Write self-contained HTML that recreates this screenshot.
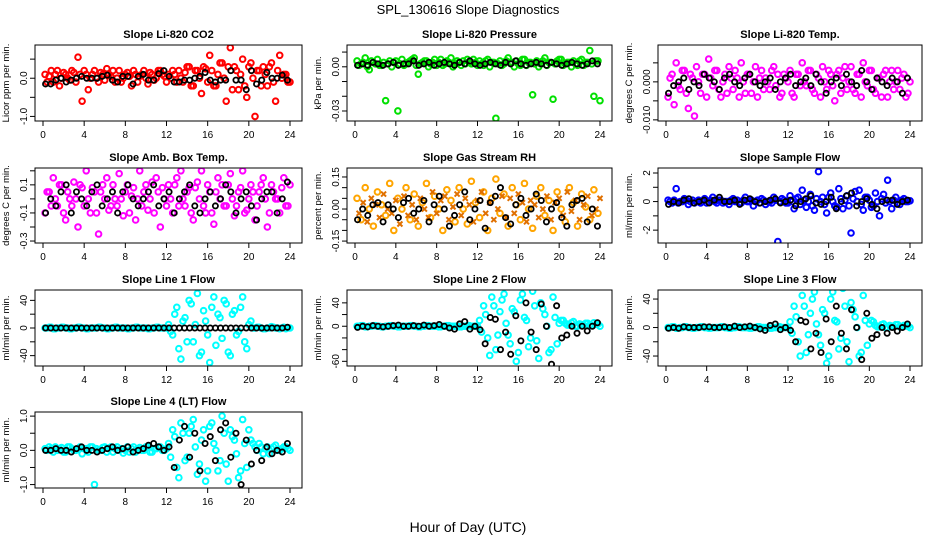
<!DOCTYPE html>
<html><head><meta charset="utf-8"><style>
body{margin:0;background:#fff;}
svg{display:block;font-family:"Liberation Sans",Arial,sans-serif;}
</style></head><body>
<svg id="chart" width="936" height="540" viewBox="0 0 936 540" xmlns="http://www.w3.org/2000/svg">
<text x="468" y="14" text-anchor="middle" font-size="13">SPL_130616  Slope Diagnostics</text>
<text x="468" y="532" text-anchor="middle" font-size="14">Hour of Day (UTC)</text>
</svg>
<script>
const hoursColor=[0.2,0.6,1.0,1.4,1.8,2.2,2.6,3.0,3.4,3.8,4.2,4.6,5.0,5.4,5.8,6.2,6.6,7.0,7.4,7.8,8.2,8.6,9.0,9.4,9.8,10.2,10.6,11.0,11.4,11.8,12.2,12.6,13.0,13.4,13.8,14.2,14.6,15.0,15.4,15.8,16.2,16.6,17.0,17.4,17.8,18.2,18.6,19.0,19.4,19.8,20.2,20.6,21.0,21.4,21.8,22.2,22.6,23.0,23.4,23.8];
const hoursBlack=[0.25,0.75,1.25,1.75,2.25,2.75,3.25,3.75,4.25,4.75,5.25,5.75,6.25,6.75,7.25,7.75,8.25,8.75,9.25,9.75,10.25,10.75,11.25,11.75,12.25,12.75,13.25,13.75,14.25,14.75,15.25,15.75,16.25,16.75,17.25,17.75,18.25,18.75,19.25,19.75,20.25,20.75,21.25,21.75,22.25,22.75,23.25,23.75];
const xTicks=[0,4,8,12,16,20,24];
const Z30=[0,1,-1,0,1,0,-1,0,1,0,-1,0,0,1,0,-1,0,1,0,0,-1,0,1,0,0,-1,0,1,0,0];

const co2A=[0.1,0.05,-0.1,0.2,0.0,0.1,-0.05,0.15,0.55,-0.6,0.1,0.0,0.2,-0.1,0.1,0.25,0.05,-0.1,0.2,0.0,0.15,-0.2,0.1,0.05,0.2,-0.15,0.1,0.0,0.2,0.05,0.1,0.2,-0.1,0.0,0.15,0.3,-0.2,0.2,-0.4,0.25,0.6,-0.2,0.1,0.4,-0.6,0.8,0.3,-0.3,0.5,-0.5,0.4,-1.0,0.2,0.3,-0.2,0.4,-0.6,0.6,0.1,-0.1];
const co2B=[-0.1,0.2,0.1,-0.2,0.15,0.0,0.2,-0.1,0.1,0.2,-0.3,0.1,0.0,0.15,-0.05,0.1,0.2,0.0,-0.1,0.1,0.05,0.2,-0.1,0.1,0.0,0.15,-0.05,0.2,0.1,-0.1,0.0,0.1,0.2,-0.1,0.3,-0.2,0.2,0.0,0.3,-0.1,0.2,-0.2,0.4,0.0,0.3,-0.3,0.2,0.1,-0.2,0.3,0.0,0.2,-0.2,0.1,0.3,-0.1,0.2,0.0,0.1,-0.1];
const co2K=[-0.15,-0.15,-0.05,0.0,-0.1,-0.05,0.0,0.05,0.0,0.0,0.0,0.05,0.08,-0.05,-0.1,0.05,0.05,-0.15,0.05,0.1,-0.05,-0.05,0.12,0.2,0.05,-0.1,-0.1,-0.05,-0.05,0.0,0.05,0.15,-0.05,-0.1,-0.05,-0.05,0.2,-0.05,-0.05,-0.3,0.2,-0.15,-0.05,0.15,0.0,0.0,0.08,-0.05];

const presA=[0.004,0.002,0.006,-0.002,0.003,0.005,0.001,-0.023,0.004,0.003,-0.03,0.005,0.002,0.004,0.006,-0.005,0.003,0.004,0.002,0.005,0.003,0.001,0.004,0.006,0.002,0.003,0.004,0.005,0.002,0.003,0.004,0.001,0.005,0.003,-0.035,0.004,0.002,0.006,0.003,0.004,0.001,0.005,0.003,-0.019,0.004,0.002,0.006,0.003,-0.022,0.004,0.005,0.002,0.003,0.004,0.001,0.005,0.003,0.011,-0.02,0.004];
const presB=[0.001,0.003,0.0,0.004,0.002,0.001,0.003,0.002,0.0,0.004,0.002,0.001,0.003,0.005,0.001,0.002,0.004,0.0,0.003,0.001,0.005,0.002,0.003,0.0,0.004,0.001,0.002,0.003,0.005,0.001,0.002,0.004,0.0,0.003,0.002,0.001,0.004,0.003,0.0,0.002,0.005,0.001,0.003,0.002,0.0,0.004,0.001,0.003,0.002,0.005,0.001,0.003,0.0,0.002,0.004,0.001,0.003,0.002,0.004,-0.023];
const presK=[0.001,0.002,0.001,0.003,0.002,0.001,0.002,0.003,0.001,0.002,0.002,0.004,0.001,0.002,0.003,0.001,0.002,0.003,0.002,0.001,0.003,0.002,0.004,0.002,0.001,0.002,0.003,0.002,0.001,0.003,0.002,0.004,0.002,0.001,0.002,0.003,0.002,0.001,0.003,0.002,0.001,0.002,0.003,0.002,0.001,0.002,0.004,0.002];

const tempA=[-0.004,0.002,0.005,-0.002,0.003,-0.007,0.001,0.004,-0.003,0.002,0.006,-0.001,0.003,-0.004,0.002,0.004,-0.002,0.001,0.005,-0.003,0.002,0.0,-0.004,0.003,0.001,-0.002,0.004,0.002,-0.003,0.001,0.003,-0.004,0.002,0.005,-0.001,0.003,-0.003,0.001,0.004,-0.002,0.002,-0.005,0.003,0.001,-0.002,0.004,-0.003,0.002,0.005,-0.001,0.003,-0.003,0.001,0.002,-0.004,0.003,0.0,-0.002,0.002,-0.003];
const tempB=[0.001,-0.006,-0.001,0.003,-0.003,0.002,-0.009,0.0,0.002,-0.004,0.001,0.003,-0.002,0.0,-0.003,0.001,0.003,-0.004,0.0,0.002,-0.003,0.004,0.001,-0.002,0.0,0.003,-0.001,-0.004,0.002,0.0,-0.003,0.002,-0.001,0.0,0.003,-0.002,0.002,-0.004,0.0,0.003,-0.001,0.002,-0.003,0.004,0.0,-0.002,0.002,-0.004,0.0,0.003,-0.002,0.001,-0.004,0.003,0.0,-0.002,0.003,0.001,-0.004,0.0];
const tempK=[-0.003,-0.001,0.0,0.001,-0.002,0.0,-0.001,0.002,0.001,0.0,-0.002,0.001,0.002,0.0,-0.001,0.001,0.002,0.0,-0.001,0.0,0.001,-0.002,0.0,0.001,0.002,-0.001,0.0,0.001,-0.001,0.002,0.0,-0.003,0.0,0.001,-0.001,0.002,0.0,-0.001,0.003,0.0,-0.002,0.001,0.0,-0.001,0.001,0.0,-0.003,0.001];

const ambA=[-0.1,0.05,0.15,-0.05,0.1,-0.15,0.0,0.12,-0.2,0.08,0.2,-0.1,0.05,-0.25,0.1,0.15,-0.05,0.0,0.18,-0.12,0.1,0.02,-0.15,0.2,0.05,-0.08,0.12,0.15,-0.2,0.0,0.1,-0.1,0.15,0.2,-0.05,0.08,-0.15,0.12,0.2,-0.1,0.05,-0.18,0.15,0.1,-0.05,0.18,-0.12,0.05,0.2,-0.08,0.1,-0.15,0.05,0.15,-0.2,0.1,0.0,-0.1,0.15,-0.05];
const ambB=[0.05,-0.05,0.0,0.1,-0.1,0.05,-0.05,0.0,0.1,-0.05,0.0,0.08,-0.1,0.05,0.0,-0.08,0.1,-0.05,0.0,0.05,-0.1,0.08,0.0,-0.05,0.1,0.0,-0.1,0.05,0.08,-0.05,0.0,0.1,-0.05,0.0,0.05,-0.1,0.08,0.0,-0.05,0.1,-0.1,0.05,0.0,-0.05,0.1,0.0,-0.05,0.08,-0.1,0.0,0.05,-0.05,0.1,0.0,-0.1,0.05,0.0,0.08,-0.05,0.1];
const ambK=[-0.1,0.0,-0.05,0.05,0.1,-0.1,0.05,0.0,-0.05,0.05,0.1,-0.05,0.0,0.05,-0.1,0.05,0.1,0.0,-0.05,0.0,0.05,0.1,-0.05,0.0,0.05,-0.1,0.0,0.05,0.1,-0.05,-0.1,0.0,0.05,-0.05,0.0,0.1,0.05,-0.1,0.0,0.05,-0.05,-0.15,0.0,0.05,0.05,-0.1,0.0,0.12];

const rhA=[0.05,-0.05,0.1,0.0,-0.08,0.08,0.02,-0.03,0.12,-0.1,0.05,0.0,0.1,-0.05,0.07,-0.08,0.03,0.12,-0.04,0.06,0.0,-0.1,0.09,0.04,-0.06,0.1,0.0,-0.07,0.13,0.03,-0.04,0.08,-0.1,0.05,0.14,-0.02,0.07,-0.08,0.1,0.02,-0.05,0.12,0.0,-0.09,0.06,0.1,-0.03,0.04,-0.1,0.08,0.0,-0.06,0.1,0.03,-0.08,0.07,0.01,-0.05,0.09,-0.02];
const rhB=[-0.02,0.03,-0.06,0.05,0.02,-0.04,0.07,0.0,-0.02,0.04,-0.07,0.06,-0.03,0.02,-0.05,0.05,0.0,-0.04,0.08,-0.02,0.04,0.06,-0.05,0.01,0.07,-0.03,0.05,0.02,-0.06,0.04,0.08,-0.02,0.03,-0.05,0.0,0.06,-0.04,0.05,-0.02,0.07,0.03,-0.06,0.04,0.02,-0.04,0.0,0.06,-0.05,0.03,0.05,-0.03,0.08,-0.01,0.04,-0.05,0.02,0.06,-0.03,0.0,0.05];
const rhK=[-0.05,0.0,-0.03,0.02,0.03,-0.06,0.02,0.0,-0.04,0.03,0.05,-0.02,0.0,0.04,-0.06,0.02,0.06,0.0,-0.08,-0.03,0.02,0.08,-0.05,0.0,0.04,-0.09,0.03,0.06,0.1,-0.04,-0.07,0.02,0.05,-0.03,0.0,0.07,0.04,-0.06,0.0,0.03,-0.04,-0.08,0.02,0.04,0.05,-0.06,0.0,-0.08];

const sfA=[0.1,-0.1,0.9,0.0,0.2,-0.2,0.1,0.0,-0.1,0.2,0.0,0.3,-0.1,0.1,0.0,-0.2,0.2,0.1,-0.1,0.3,0.0,-0.3,0.1,0.2,-0.2,0.0,0.3,-2.8,0.2,-0.1,0.4,-0.5,0.3,0.8,-0.4,0.5,-0.6,2.1,0.3,-0.8,0.6,-0.3,0.9,-0.5,0.4,-2.2,0.7,0.8,-0.6,0.3,-0.4,0.6,-1.0,0.5,1.5,-0.5,0.3,-0.2,0.2,0.0];
const sfB=[0.0,0.1,-0.1,0.0,0.1,0.0,-0.1,0.1,0.0,-0.1,0.1,0.0,0.1,-0.1,0.0,0.1,0.0,-0.1,0.1,0.0,0.1,0.0,-0.1,0.1,0.0,-0.1,0.1,0.0,0.1,-0.1,0.0,0.2,-0.2,0.1,0.0,-0.3,0.2,0.0,-0.2,0.3,0.0,-0.4,0.2,0.1,-0.3,0.2,0.0,-0.2,0.3,0.1,-0.3,0.0,0.2,-0.1,0.0,0.1,-0.1,0.1,0.0,0.05];
const sfK=[-0.2,0.0,-0.1,0.1,0.2,-0.1,0.0,0.1,-0.1,0.1,0.3,0.0,0.0,0.1,-0.2,0.1,0.2,0.0,-0.1,0.0,0.1,0.2,-0.1,0.0,0.1,-0.3,0.0,0.2,0.4,-0.1,-0.2,0.0,0.3,-0.5,0.0,0.4,0.6,-0.3,0.0,0.2,-0.2,-0.5,0.0,0.1,0.1,-0.2,0.0,0.1];

const l1A=Z30.concat([5,-10,30,-45,15,40,-20,50,-35,10,-50,45,20,-15,35,-40,25,-5,45,-30,10,0,1,-1,0,2,0,-1,1,0]);
const l1B=Z30.concat([-5,20,-30,10,-20,35,5,-40,25,-10,30,-25,15,40,-35,20,-10,30,-20,5,0,1,0,-1,0,1,0,0,-1,0]);
const l1K=[0,0,0,0,0,0,0,0,0,0,0,0,0,0,0,0,0,0,0,0,0,0,0,0,0,0,0,0,0,0,0,0,0,0,0,0,0,0,0,0,0,0,0,0,0,0,0,1];

const l2A=Z30.concat([10,35,-20,50,-40,25,55,-15,30,-60,45,15,-35,60,-25,40,20,-45,50,-30,10,5,2,8,0,3,5,2,6,4]);
const l2B=Z30.concat([-10,20,-50,35,-15,45,5,-30,25,-45,55,10,-20,35,-55,30,0,-40,15,5,10,2,6,0,4,2,5,1,3,0]);
const l2K=[-2,0,-1,1,0,-1,0,1,2,0,0,1,0,2,0,1,3,0,-3,-5,4,8,-5,0,-6,-30,15,12,-40,-10,-48,18,-25,40,-10,-40,38,0,-65,35,-20,-15,0,-12,0,-8,0,6];

const l3A=Z30.concat([8,30,-20,45,-35,20,50,-10,25,-50,40,10,-30,55,-20,35,15,-40,45,-25,10,3,1,5,0,2,4,1,3,2]);
const l3B=Z30.concat([-8,15,-40,30,-10,40,5,-25,20,-40,50,8,-15,30,-48,25,0,-35,10,5,8,1,4,0,3,1,4,1,2,0]);
const l3K=[-1,0,-1,1,0,0,0,1,1,0,0,1,0,2,0,1,2,0,-2,-4,3,5,-3,0,-4,-20,10,8,-30,-8,-35,12,-20,30,-8,-30,25,0,-45,20,-15,-10,0,-8,0,-5,0,5];

const l4A=[0.05,0.1,-0.05,0.0,0.08,-0.05,0.1,0.0,0.05,-0.1,0.05,0.1,-1.0,0.0,0.08,-0.05,0.1,0.05,0.0,-0.08,0.1,0.05,-0.05,0.08,0.0,0.1,-0.05,0.05,0.1,0.0,0.2,0.6,-0.5,0.8,-0.3,0.5,0.9,-0.7,0.3,-0.9,0.7,0.2,-0.6,1.0,-0.4,0.6,0.3,-0.8,0.9,-0.5,0.3,0.1,0.2,-0.1,0.1,0.05,0.15,0.0,0.1,0.05];
const l4B=[0.0,0.05,0.1,0.05,-0.05,0.1,0.05,0.0,0.1,0.05,-0.05,0.1,0.05,0.0,0.1,0.05,-0.05,0.1,0.05,0.0,-0.05,0.1,0.05,0.0,0.1,-0.05,0.05,0.1,0.0,0.05,-0.2,0.4,-0.8,0.5,-0.2,0.7,0.1,-0.4,0.6,-0.6,0.8,0.0,-0.3,0.5,-0.9,0.4,-0.1,-0.6,0.2,0.6,0.2,0.0,0.1,0.05,-0.1,0.1,0.0,0.05,0.1,0.0];
const l4K=[0.0,0.0,0.05,0.0,0.0,-0.05,0.05,0.1,0.0,0.0,-0.05,0.0,0.05,0.1,0.0,0.05,0.1,-0.05,0.0,0.05,0.15,0.2,0.1,0.0,0.1,-0.5,0.3,0.7,-0.2,0.5,-0.6,0.2,0.4,-0.3,0.6,0.8,-0.2,0.5,-1.0,0.3,-0.4,0.0,-0.3,0.1,-0.1,0.0,-0.05,0.2];

const panels=[
 {name:"co2",title:"Slope Li-820 CO2",yl:"Licor ppm per min.",col:0,row:0,ymin:-1.12,ymax:0.87,yt:[-1,-0.5,0,0.5],ytl:["-1.0","","0.0",""],A:co2A,B:co2B,K:co2K,c:"#ff0000"},
 {name:"pressure",title:"Slope Li-820 Pressure",yl:"kPa per min.",col:1,row:0,ymin:-0.0368,ymax:0.0148,yt:[-0.03,-0.02,-0.01,0,0.01],ytl:["-0.03","","","0.00",""],A:presA,B:presB,K:presK,c:"#00e000"},
 {name:"temp",title:"Slope Li-820 Temp.",yl:"degrees C per min.",col:2,row:0,ymin:-0.0103,ymax:0.0097,yt:[-0.01,-0.005,0,0.005],ytl:["-0.010","","0.000",""],A:tempA,B:tempB,K:tempK,c:"#ff00ff"},
 {name:"amb-box-temp",title:"Slope Amb. Box Temp.",yl:"degrees C per min.",col:0,row:1,ymin:-0.314,ymax:0.22,yt:[-0.3,-0.2,-0.1,0,0.1,0.2],ytl:["-0.3","","-0.1","","0.1",""],A:ambA,B:ambB,K:ambK,c:"#ff00ff"},
 {name:"gas-rh",title:"Slope Gas Stream RH",yl:"percent per min.",col:1,row:1,ymin:-0.159,ymax:0.192,yt:[-0.15,-0.1,-0.05,0,0.05,0.1,0.15],ytl:["-0.15","","","0.00","","","0.15"],A:rhA,B:rhB,K:rhK,c:"#ffa500",c2:"#e07000",bx:true},
 {name:"sample-flow",title:"Slope Sample Flow",yl:"ml/min per min.",col:2,row:1,ymin:-2.9,ymax:2.35,yt:[-2,-1,0,1,2],ytl:["-2","","0","","2"],A:sfA,B:sfB,K:sfK,c:"#0000ff"},
 {name:"line1-flow",title:"Slope Line 1 Flow",yl:"ml/min per min.",col:0,row:2,ymin:-55,ymax:55,yt:[-40,-20,0,20,40],ytl:["-40","","0","","40"],A:l1A,B:l1B,K:l1K,c:"#00ffff"},
 {name:"line2-flow",title:"Slope Line 2 Flow",yl:"ml/min per min.",col:1,row:2,ymin:-68,ymax:62,yt:[-60,-40,-20,0,20,40],ytl:["-60","","","0","","40"],A:l2A,B:l2B,K:l2K,c:"#00ffff"},
 {name:"line3-flow",title:"Slope Line 3 Flow",yl:"ml/min per min.",col:2,row:2,ymin:-54,ymax:52.7,yt:[-40,-20,0,20,40],ytl:["-40","","0","","40"],A:l3A,B:l3B,K:l3K,c:"#00ffff"},
 {name:"line4-flow",title:"Slope Line 4 (LT) Flow",yl:"ml/min per min.",col:0,row:3,ymin:-1.1,ymax:1.12,yt:[-1,-0.5,0,0.5,1],ytl:["-1.0","","0.0","","1.0"],A:l4A,B:l4B,K:l4K,c:"#00ffff"}
];
const colX=[[35,302],[347,612],[658,922]];
const rowY=[[45,121],[168,243],[290,366],[412,488]];
const NS="http://www.w3.org/2000/svg";
const svg=document.getElementById("chart");
function mk(tag,attrs,parent){const e=document.createElementNS(NS,tag);for(const k in attrs)e.setAttribute(k,attrs[k]);(parent||svg).appendChild(e);return e;}

panels.forEach(p=>{
 const [L,R]=colX[p.col],[T,B]=rowY[p.row];
 const g=mk("g",{});
 
 
 const xs=h=>L+8+(R-12-L-8)*h/24;
 const ys=v=>B-(B-T)*(v-p.ymin)/(p.ymax-p.ymin);
 const cp="clip-"+p.name;
 const cl=mk("clipPath",{id:cp},g);mk("rect",{x:L,y:T,width:R-L,height:B-T},cl);
 const t=mk("text",{x:(L+R)/2,y:T-7,"text-anchor":"middle","font-size":"11","font-weight":"bold"},g);
 t.textContent=p.title;
 
 
 const yl=mk("text",{transform:`translate(${L-26},${(T+B)/2}) rotate(-90)`,"text-anchor":"middle","font-size":"9.5"},g);
 yl.textContent=p.yl;
 
 
 const pts=mk("g",{"clip-path":`url(#${cp})`,fill:"none","stroke-width":"2"},g);
 
 
 const n=Math.min(hoursColor.length,p.A.length);
 for(let i=0;i<n;i++){
  const c=mk("circle",{cx:xs(hoursColor[i]),cy:ys(p.A[i]),r:2.8,stroke:p.c},pts);
  
  
 }
 const n2=Math.min(hoursColor.length,p.B.length);
 for(let i=0;i<n2;i++){
  const x=xs(hoursColor[i]+0.2),y=ys(p.B[i]);
  if(p.bx){
   const e=mk("path",{d:`M${x-2.5},${y-2.5}L${x+2.5},${y+2.5}M${x-2.5},${y+2.5}L${x+2.5},${y-2.5}`,stroke:p.c2},pts);
   
   
  } else {
   const e=mk("circle",{cx:x,cy:y,r:2.8,stroke:p.c},pts);
   
   
  }
 }
 const nk=Math.min(hoursBlack.length,p.K.length);
 for(let i=0;i<nk;i++){
  const c=mk("circle",{cx:xs(hoursBlack[i]),cy:ys(p.K[i]),r:2.6,stroke:"#000","stroke-width":"1.8"},pts);
  
  
 }
 const box=mk("rect",{x:L,y:T,width:R-L,height:B-T,fill:"none",stroke:"#000","stroke-width":"1"},g);
 
 
 xTicks.forEach(h=>{
  mk("line",{x1:xs(h),x2:xs(h),y1:B,y2:B+5,stroke:"#000"},g);
  const tl=mk("text",{x:xs(h),y:B+17,"text-anchor":"middle","font-size":"10"},g);
  tl.textContent=h;
  
  
 });
 p.yt.forEach((v,i)=>{
  mk("line",{x1:L-5,x2:L,y1:ys(v),y2:ys(v),stroke:"#000"},g);
  if(p.ytl[i]){
   const tl=mk("text",{transform:`translate(${L-8},${ys(v)}) rotate(-90)`,"text-anchor":"middle","font-size":"10"},g);
   tl.textContent=p.ytl[i];
   
   
  }
 });
});
</script>
</body></html>
